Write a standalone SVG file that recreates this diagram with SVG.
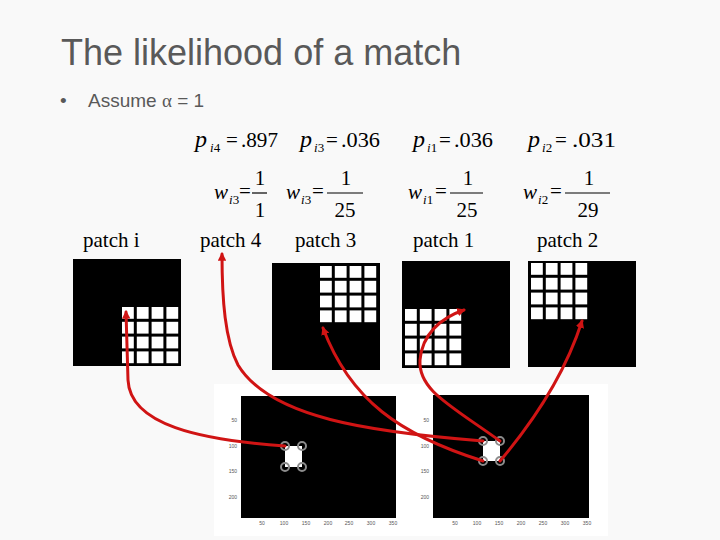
<svg xmlns="http://www.w3.org/2000/svg" xmlns:xlink="http://www.w3.org/1999/xlink" width="720" height="540" viewBox="0 0 720 540">
<style>
.title{font-family:"Liberation Sans",Arial,sans-serif;font-size:36px;fill:#595959}
.body{font-family:"Liberation Sans",Arial,sans-serif;font-size:19px;fill:#595959}
.m{font-family:"Liberation Serif","Times New Roman",serif;font-size:21px;fill:#000}
.mi{font-family:"Liberation Serif","Times New Roman",serif;font-size:24px;font-style:italic;fill:#000}
.mw{font-family:"Liberation Serif","Times New Roman",serif;font-size:21px;font-style:italic;fill:#000}
.sub{font-family:"Liberation Serif","Times New Roman",serif;font-size:13px;fill:#000}
.num{font-family:"Liberation Serif","Times New Roman",serif;font-size:21px;fill:#000;text-anchor:middle}
.lbl{font-family:"Liberation Serif","Times New Roman",serif;font-size:21px;fill:#000}
.bar{stroke:#000;stroke-width:1.2}
.tick{font-family:"Liberation Sans",Arial,sans-serif;font-size:5px;fill:#555}
.ty{text-anchor:end}
.tx{text-anchor:middle}
.ring{fill:none;stroke:#8c8c8c;stroke-width:2}
.con{fill:none;stroke:#d01414;stroke-width:3;stroke-linecap:round;marker-end:url(#ah)}
.cell{fill:#fff}
</style>
<defs>
<marker id="ah" viewBox="0 0 10 10" refX="8" refY="5" markerWidth="2.8" markerHeight="2.8" orient="auto" markerUnits="strokeWidth">
<path d="M0,0 L10,5 L0,10 z" fill="#d01414"/>
</marker>
<g id="grid">
<rect class="cell" x="0" y="0" width="11.8" height="11.8"/><rect class="cell" x="14.8" y="0" width="11.8" height="11.8"/><rect class="cell" x="29.6" y="0" width="11.8" height="11.8"/><rect class="cell" x="44.4" y="0" width="11.8" height="11.8"/>
<rect class="cell" x="0" y="14.8" width="11.8" height="11.8"/><rect class="cell" x="14.8" y="14.8" width="11.8" height="11.8"/><rect class="cell" x="29.6" y="14.8" width="11.8" height="11.8"/><rect class="cell" x="44.4" y="14.8" width="11.8" height="11.8"/>
<rect class="cell" x="0" y="29.6" width="11.8" height="11.8"/><rect class="cell" x="14.8" y="29.6" width="11.8" height="11.8"/><rect class="cell" x="29.6" y="29.6" width="11.8" height="11.8"/><rect class="cell" x="44.4" y="29.6" width="11.8" height="11.8"/>
<rect class="cell" x="0" y="44.4" width="11.8" height="11.8"/><rect class="cell" x="14.8" y="44.4" width="11.8" height="11.8"/><rect class="cell" x="29.6" y="44.4" width="11.8" height="11.8"/><rect class="cell" x="44.4" y="44.4" width="11.8" height="11.8"/>
</g>
</defs>
<rect x="0" y="0" width="720" height="540" fill="#f9f9f9"/>

<g id="title"><text class="title" x="61" y="65">The likelihood of a match</text></g>
<g id="bullet"><text class="body" x="60" y="107">•</text><text class="body" x="88" y="107">Assume <tspan font-family="'Liberation Serif',serif">α</tspan> = 1</text></g>

<g id="probabilities">
<text class="mi" x="195" y="147">p</text><text class="sub" x="210" y="152"><tspan font-style="italic">i</tspan>4</text><text class="m" x="226" y="147">=</text><text class="m" x="241" y="147" textLength="37" lengthAdjust="spacingAndGlyphs">.897</text>
<text class="mi" x="300" y="147">p</text><text class="sub" x="314" y="152"><tspan font-style="italic">i</tspan>3</text><text class="m" x="326" y="147">=</text><text class="m" x="341" y="147" textLength="39" lengthAdjust="spacingAndGlyphs">.036</text>
<text class="mi" x="413" y="147">p</text><text class="sub" x="427" y="152"><tspan font-style="italic">i</tspan>1</text><text class="m" x="439" y="147">=</text><text class="m" x="454" y="147" textLength="39" lengthAdjust="spacingAndGlyphs">.036</text>
<text class="mi" x="528" y="147">p</text><text class="sub" x="542" y="152"><tspan font-style="italic">i</tspan>2</text><text class="m" x="555" y="147">=</text><text class="m" x="572" y="147" textLength="44" lengthAdjust="spacingAndGlyphs">.031</text>
</g>

<g id="weights">
<text class="mw" x="214" y="199">w</text><text class="sub" x="229" y="204"><tspan font-style="italic">i</tspan>3</text><text class="m" x="239" y="198">=</text>
<text class="num" x="260" y="185">1</text><line class="bar" x1="252" y1="193" x2="267" y2="193"/><text class="num" x="260" y="217">1</text>
<text class="mw" x="286" y="199">w</text><text class="sub" x="301" y="204"><tspan font-style="italic">i</tspan>3</text><text class="m" x="312" y="198">=</text>
<text class="num" x="346" y="185">1</text><line class="bar" x1="327" y1="193" x2="363" y2="193"/><text class="num" x="345" y="217">25</text>
<text class="mw" x="408" y="199">w</text><text class="sub" x="423" y="204"><tspan font-style="italic">i</tspan>1</text><text class="m" x="435" y="198">=</text>
<text class="num" x="468" y="185">1</text><line class="bar" x1="450" y1="193" x2="483" y2="193"/><text class="num" x="467" y="217">25</text>
<text class="mw" x="523" y="199">w</text><text class="sub" x="538" y="204"><tspan font-style="italic">i</tspan>2</text><text class="m" x="550" y="198">=</text>
<text class="num" x="589" y="185">1</text><line class="bar" x1="565" y1="193" x2="610" y2="193"/><text class="num" x="588" y="217">29</text>
</g>

<g id="labels">
<text class="lbl" x="83" y="247">patch i</text>
<text class="lbl" x="200" y="247">patch 4</text>
<text class="lbl" x="295" y="247">patch 3</text>
<text class="lbl" x="413" y="247">patch 1</text>
<text class="lbl" x="537" y="247">patch 2</text>
</g>

<g id="patch-i"><rect x="73" y="259" width="108" height="107" fill="#000"/><use xlink:href="#grid" x="122" y="307"/></g>
<g id="patch-3"><rect x="272" y="263" width="108" height="107" fill="#000"/><use xlink:href="#grid" x="320" y="266"/></g>
<g id="patch-1"><rect x="402" y="261" width="108" height="107" fill="#000"/><use xlink:href="#grid" x="405" y="309"/></g>
<g id="patch-2"><rect x="528" y="261" width="108" height="106" fill="#000"/><use xlink:href="#grid" x="531" y="263"/></g>

<g id="plot-left">
<rect x="214" y="384" width="199" height="152" fill="#fff"/>
<rect x="241" y="396" width="155" height="122" fill="#000"/>
<text class="tick ty" x="237" y="422">50</text><text class="tick ty" x="237" y="448">100</text><text class="tick ty" x="237" y="473">150</text><text class="tick ty" x="237" y="499">200</text>
<text class="tick tx" x="262" y="525">50</text><text class="tick tx" x="284" y="525">100</text><text class="tick tx" x="306" y="525">150</text><text class="tick tx" x="328" y="525">200</text><text class="tick tx" x="349" y="525">250</text><text class="tick tx" x="371" y="525">300</text><text class="tick tx" x="393" y="525">350</text>
<rect x="285" y="446" width="17" height="21" fill="#fff"/>
<circle class="ring" cx="285" cy="446" r="4"/><circle class="ring" cx="302" cy="446" r="4"/><circle class="ring" cx="285" cy="467" r="4"/><circle class="ring" cx="302" cy="467" r="4"/>
</g>

<g id="plot-right">
<rect x="406" y="384" width="202" height="152" fill="#fff"/>
<rect x="433" y="395" width="156" height="123" fill="#000"/>
<text class="tick ty" x="429" y="422">50</text><text class="tick ty" x="429" y="448">100</text><text class="tick ty" x="429" y="473">150</text><text class="tick ty" x="429" y="499">200</text>
<text class="tick tx" x="455" y="525">50</text><text class="tick tx" x="477" y="525">100</text><text class="tick tx" x="499" y="525">150</text><text class="tick tx" x="521" y="525">200</text><text class="tick tx" x="543" y="525">250</text><text class="tick tx" x="565" y="525">300</text><text class="tick tx" x="587" y="525">350</text>
<rect x="483" y="441" width="17" height="20" fill="#fff"/>
<circle class="ring" cx="483" cy="441" r="4"/><circle class="ring" cx="500" cy="441" r="4"/><circle class="ring" cx="483" cy="461" r="4"/><circle class="ring" cx="500" cy="461" r="4"/>
</g>

<g id="connectors">
<path class="con" d="M285,446 C200,440 130,425 128,380 L126,312"/>
<path class="con" d="M483,441 C370,432 270,418 238,365 C225,340 222,300 222,254"/>
<path class="con" d="M483,461 C400,435 350,400 323,328"/>
<path class="con" d="M500,441 C450,405 418,390 420,360 C422,335 440,318 464,310"/>
<path class="con" d="M500,461 Q560,390 582,321"/>
</g>
</svg>
